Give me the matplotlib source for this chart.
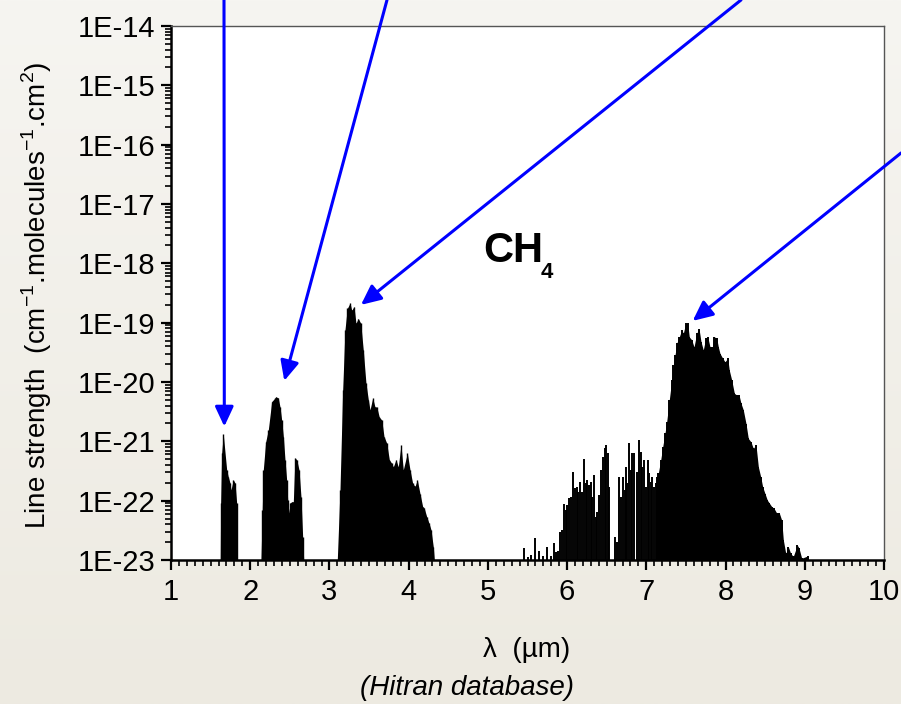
import numpy as np
import matplotlib
matplotlib.use('Agg')
import matplotlib.pyplot as plt
from matplotlib.ticker import FixedLocator, LogLocator, MultipleLocator, NullFormatter

plt.rcParams['font.family'] = ['Liberation Sans', 'DejaVu Sans']
plt.rcParams['mathtext.fontset'] = 'custom'
plt.rcParams['mathtext.rm'] = 'Liberation Sans'
plt.rcParams['mathtext.bf'] = 'Liberation Sans:bold'

# CH4 line strengths (wavelength in um, log10 of strength)
band1_wl = [1.622, 1.627, 1.640, 1.660, 1.703, 1.723, 1.745, 1.757, 1.786, 1.808, 1.829, 1.833]
band1_logS = [-23.0, -22.04, -21.20, -20.88, -21.48, -21.60, -21.70, -21.82, -21.65, -21.70, -22.04, -23.0]

band2_wl = [2.136, 2.152, 2.165, 2.195, 2.228, 2.271, 2.313, 2.325, 2.354, 2.376, 2.397, 2.418,
            2.439, 2.460, 2.473, 2.490, 2.502, 2.524, 2.544, 2.565, 2.587, 2.616, 2.641, 2.662, 2.675]
band2_logS = [-23.0, -22.16, -21.48, -21.01, -20.81, -20.33, -20.27, -20.25, -20.27, -20.42, -20.64, -20.92,
              -21.31, -21.65, -21.99, -22.21, -22.04, -22.02, -22.02, -21.28, -21.31, -21.48, -21.94, -22.61, -23.0]

band3_wl = [3.099, 3.133, 3.167, 3.196, 3.225, 3.260, 3.281, 3.310, 3.335, 3.364, 3.395, 3.427,
            3.461, 3.491, 3.512, 3.546, 3.575, 3.597, 3.629, 3.660, 3.689, 3.723, 3.756, 3.786,
            3.806, 3.840, 3.869, 3.903, 3.932, 3.983, 4.017, 4.051, 4.080, 4.109, 4.143, 4.177,
            4.197, 4.228, 4.257, 4.282, 4.311, 4.324]
band3_logS = [-23.0, -21.82, -20.14, -19.12, -18.76, -18.67, -18.79, -18.73, -19.01, -18.93, -19.01, -19.46,
              -20.02, -20.30, -20.47, -20.27, -20.42, -20.42, -20.59, -20.64, -20.92, -21.03, -21.31, -21.37,
              -21.43, -21.31, -21.43, -21.06, -21.48, -21.20, -21.48, -21.71, -21.76, -21.65, -21.88, -22.10,
              -22.13, -22.27, -22.38, -22.49, -22.78, -23.0]

# sparse lines between 5.4 and 7.2 um
band4_wl = [5.456, 5.503, 5.544, 5.595, 5.649, 5.700, 5.750, 5.793, 5.835, 5.860, 5.881, 5.910,
            5.932, 5.961, 5.986, 6.002, 6.028, 6.053, 6.078, 6.100, 6.121, 6.141, 6.163, 6.184,
            6.213, 6.238, 6.255, 6.276, 6.298, 6.318, 6.343, 6.365, 6.381, 6.406, 6.428, 6.453,
            6.475, 6.495, 6.512, 6.525, 6.609, 6.634, 6.655, 6.680, 6.702, 6.731, 6.743, 6.760,
            6.781, 6.803, 6.823, 6.848, 6.879, 6.908, 6.929, 6.949, 6.971, 6.996, 7.017, 7.038,
            7.055, 7.076, 7.097, 7.118, 7.139, 7.160]
band4_logS = [-22.80, -22.95, -22.92, -22.63, -22.84, -22.94, -22.78, -22.94, -22.72, -22.86, -22.84, -22.52,
              -22.49, -22.05, -22.16, -22.07, -21.96, -21.93, -21.51, -21.79, -21.77, -21.85, -21.68, -21.85,
              -21.29, -21.71, -21.65, -21.74, -21.68, -21.93, -21.57, -22.27, -22.19, -21.90, -21.48, -21.26,
              -21.12, -21.06, -21.20, -21.77, -22.61, -22.69, -21.60, -21.93, -21.60, -21.82, -21.43, -21.71,
              -21.03, -21.48, -21.20, -21.20, -21.51, -20.98, -21.18, -21.43, -21.31, -21.77, -21.31, -21.54,
              -21.68, -21.60, -21.77, -21.71, -21.60, -21.54]

band5_wl = [7.151, 7.182, 7.207, 7.236, 7.257, 7.290, 7.320, 7.341, 7.362, 7.384, 7.416, 7.447,
            7.467, 7.497, 7.522, 7.542, 7.573, 7.602, 7.636, 7.665, 7.690, 7.719, 7.750, 7.775,
            7.804, 7.833, 7.858, 7.888, 7.909, 7.930, 7.964, 7.993, 8.027, 8.047, 8.078, 8.111,
            8.141, 8.170, 8.195, 8.224, 8.258, 8.287, 8.321, 8.350, 8.384, 8.414, 8.444, 8.469,
            8.498, 8.527, 8.552, 8.583, 8.612, 8.646, 8.679, 8.709, 8.729, 8.760, 8.793, 8.822,
            8.855, 8.906, 8.927, 8.961, 9.041]
band5_logS = [-21.54, -21.31, -21.09, -20.86, -20.67, -20.30, -19.97, -19.71, -19.55, -19.35, -19.24, -19.12,
              -19.18, -19.01, -19.01, -19.24, -19.29, -19.41, -19.18, -19.10, -19.32, -19.46, -19.26, -19.24,
              -19.41, -19.41, -19.24, -19.26, -19.41, -19.52, -19.60, -19.66, -19.60, -19.80, -19.97, -20.19,
              -20.22, -20.22, -20.36, -20.47, -20.70, -20.95, -21.01, -21.12, -21.06, -21.43, -21.60, -21.77,
              -21.88, -21.99, -22.04, -22.10, -22.13, -22.21, -22.21, -22.33, -22.66, -22.89, -22.78, -22.89,
              -22.94, -22.75, -22.80, -22.97, -22.93]

ytick_vals = [1e-23, 1e-22, 1e-21, 1e-20, 1e-19, 1e-18, 1e-17, 1e-16, 1e-15, 1e-14]
ytick_labels = ['1E-23', '1E-22', '1E-21', '1E-20', '1E-19', '1E-18', '1E-17', '1E-16', '1E-15', '1E-14']
xtick_vals = [1, 2, 3, 4, 5, 6, 7, 8, 9, 10]

# arrows: tip on the band (data), tail outside the plot (figure pixels)
arrow_tips = [(1.673, -20.75), (2.430, -19.98), (3.398, -18.70), (7.585, -18.97)]
arrow_tails = [(224, 704), (387, 704), (741, 704), (901, 551)]

base = 1e-23

fig = plt.figure(figsize=(9.01, 7.04), dpi=100)

# soft beige background
bg = fig.add_axes([0, 0, 1, 1], zorder=-10)
grad = np.linspace(0, 1, 256).reshape(-1, 1)
top_c = np.array([246, 245, 241]) / 255
bot_c = np.array([237, 234, 225]) / 255
img = top_c[None, None, :] * (1 - grad[:, :, None]) + bot_c[None, None, :] * grad[:, :, None]
bg.imshow(img, aspect='auto', extent=[0, 1, 0, 1])
bg.axis('off')

ax = fig.add_axes([171 / 901, 1 - 560 / 704, 713 / 901, 534 / 704])
ax.set_facecolor('white')
ax.set_yscale('log')

for wl, ls in [(band1_wl, band1_logS), (band2_wl, band2_logS), (band3_wl, band3_logS)]:
    s = 10.0 ** np.array(ls)
    ax.fill_between(wl, base, s, color='black', lw=0)
    ax.vlines(wl, base, s, color='black', lw=1.0)

s4 = 10.0 ** np.array(band4_logS)
ax.vlines(band4_wl, base, s4, color='black', lw=1.4)

s5 = 10.0 ** np.array(band5_logS)
ax.fill_between(band5_wl, base, s5, color='black', lw=0)
ax.vlines(band5_wl, base, s5, color='black', lw=1.4)

ax.set_xlim(1, 10)
ax.set_ylim(1e-23, 1e-14)

ax.yaxis.set_major_locator(FixedLocator(ytick_vals))
ax.set_yticklabels(ytick_labels)
ax.yaxis.set_minor_locator(LogLocator(base=10, subs=np.arange(2, 10), numticks=20))
ax.yaxis.set_minor_formatter(NullFormatter())
ax.set_xticks(xtick_vals)
ax.set_xticklabels([str(v) for v in xtick_vals])
ax.xaxis.set_minor_locator(MultipleLocator(0.1))

ax.tick_params(which='major', direction='out', length=7, width=1.6, labelsize=20, pad=4)
ax.tick_params(which='minor', direction='out', length=4, width=1.2)
ax.tick_params(axis='y', which='major', labelsize=21)
ax.tick_params(axis='x', which='major', pad=6, labelsize=21)

for side in ['left', 'bottom']:
    ax.spines[side].set_linewidth(1.8)
    ax.spines[side].set_color('black')
for side in ['top', 'right']:
    ax.spines[side].set_linewidth(1.0)
    ax.spines[side].set_color('#555555')

ax.text(4.94, 10 ** -17.98, 'CH', fontsize=30, fontweight='bold',
        ha='left', va='baseline')
ax.text(5.66, 10 ** -18.25, '4', fontsize=16, fontweight='bold',
        ha='left', va='baseline')

for (tx, tl), tail in zip(arrow_tips, arrow_tails):
    ax.annotate('', xy=(tx, 10 ** tl), xytext=tail, textcoords='figure pixels',
                annotation_clip=False,
                arrowprops=dict(arrowstyle='-|>,head_length=0.6,head_width=0.28',
                                color='#0000FF', lw=2.2, mutation_scale=20,
                                shrinkA=0, shrinkB=0))

fig.text(37 / 901, 1 - 295 / 704,
         r'Line strength  (cm$^{\mathregular{-1}}$.molecules$^{\mathregular{-1}}$.cm$^{2}$)',
         rotation=90, ha='center', va='center', fontsize=20)
fig.text(527 / 901, 1 - 650 / 704, 'λ  (µm)', ha='center', va='center', fontsize=20)
fig.text(467 / 901, 1 - 688 / 704, '(Hitran database)', ha='center', va='center',
         fontsize=20, style='italic')

fig.savefig('out.png', dpi=100)
